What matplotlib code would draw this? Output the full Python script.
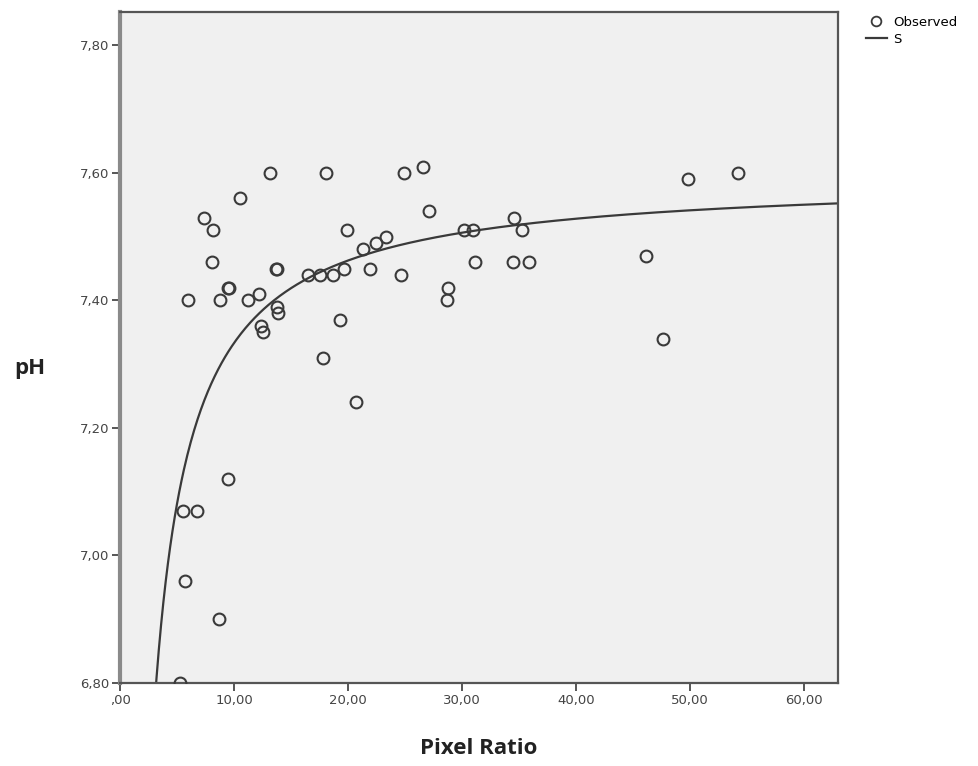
import matplotlib
matplotlib.use('Agg')
import matplotlib.pyplot as plt
import numpy as np
from matplotlib.lines import Line2D
from matplotlib.ticker import FuncFormatter

pixel_ratio = [5.28, 8.71, 5.72, 5.54, 6.77, 9.50, 20.67, 17.77, 47.67, 19.26,
               12.40, 12.58, 13.81, 13.90, 5.98, 8.80, 11.26, 12.23, 9.45, 9.55,
               28.67, 28.76, 8.09, 13.68, 13.76, 16.53, 17.59, 18.65, 19.61, 21.90,
               24.63, 21.28, 22.43, 23.31, 19.88, 31.13, 34.48, 35.88, 30.17, 30.96,
               34.56, 35.27, 7.39, 8.18, 10.55, 13.19, 18.03, 24.89, 26.56, 27.09,
               46.17, 49.87, 54.18]
ph = [6.80, 6.90, 6.96, 7.07, 7.07, 7.12, 7.24, 7.31, 7.34, 7.37,
      7.36, 7.35, 7.39, 7.38, 7.40, 7.40, 7.40, 7.41, 7.42, 7.42,
      7.40, 7.42, 7.46, 7.45, 7.45, 7.44, 7.44, 7.44, 7.45, 7.45,
      7.44, 7.48, 7.49, 7.50, 7.51, 7.46, 7.46, 7.46, 7.51, 7.51,
      7.53, 7.51, 7.53, 7.51, 7.56, 7.60, 7.60, 7.60, 7.61, 7.54,
      7.47, 7.59, 7.60]

#   S curve  y = exp(b0 + b1/x)
b0 = 2.0274
b1 = -0.350

x_ticks = [0, 10, 20, 30, 40, 50, 60]
y_ticks = [6.8, 7.0, 7.2, 7.4, 7.6, 7.8]

dark = '#3a3a3a'

fig = plt.figure(figsize=(9.79, 7.66), dpi=100)
ax = fig.add_axes([0.1226, 0.1084, 0.7334, 0.8756])
ax.set_facecolor('#f0f0f0')

xs = np.linspace(3.0, 63, 600)
ax.plot(xs, np.exp(b0 + b1 / xs), color=dark, lw=1.6, zorder=2)
ax.plot(pixel_ratio, ph, ls='none', marker='o', ms=8.5, mfc='none',
        mec=dark, mew=1.5, zorder=3)

ax.set_xlim(0, 63)
ax.set_ylim(6.8, 7.852)
ax.set_xticks(x_ticks)
ax.set_yticks(y_ticks)


def comma_fmt(v, pos):
    s = f'{v:.2f}'.replace('.', ',')
    if s.startswith('0,'):
        s = s[1:]
    return s


ax.xaxis.set_major_formatter(FuncFormatter(comma_fmt))
ax.yaxis.set_major_formatter(FuncFormatter(comma_fmt))
ax.tick_params(length=6, width=1.2, color=dark, labelsize=9.5,
               labelcolor='#444444', pad=2)
for lab in ax.get_xticklabels() + ax.get_yticklabels():
    lab.set_family(['Liberation Sans Narrow', 'DejaVu Sans'])

for side in ['top', 'right', 'bottom']:
    ax.spines[side].set_color('#555555')
    ax.spines[side].set_linewidth(1.6)
ax.spines['left'].set_color('#8a8a8a')
ax.spines['left'].set_linewidth(3)

ax.set_xlabel('Pixel Ratio', fontsize=16, fontweight='bold',
              family=['Open Sans', 'DejaVu Sans'], color='#222222', va='center')
ax.xaxis.set_label_coords(0.5, -0.097)
ax.set_ylabel('pH', fontsize=16, fontweight='bold', rotation=0,
              family=['Open Sans', 'DejaVu Sans'], color='#222222',
              va='center', ha='center')
ax.yaxis.set_label_coords(-0.125, 0.469)

handles = [Line2D([], [], ls='none', marker='o', ms=7, mfc='none', mec=dark, mew=1.3),
           Line2D([], [], color=dark, lw=1.6)]
fig.legend(handles, ['Observed', 'S'], loc='upper left',
           bbox_to_anchor=(0.872, 0.995), frameon=False,
           handlelength=1.6, handletextpad=0.5, labelspacing=0.3,
           prop={'family': ['Liberation Sans Narrow', 'DejaVu Sans'], 'size': 9.5})

fig.savefig('out.png', dpi=100)
